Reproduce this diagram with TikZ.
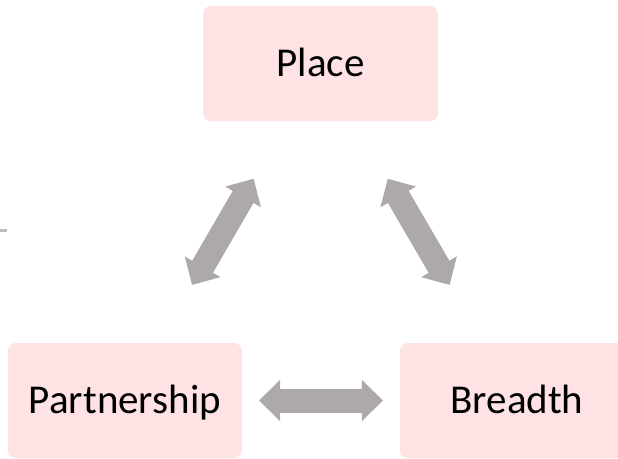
\documentclass[tikz,border=0pt]{standalone}
\usepackage{fontspec}
\setmainfont{Carlito}
\usetikzlibrary{arrows.meta,calc}
\definecolor{boxpink}{RGB}{255,227,228}
\definecolor{arrowgray}{RGB}{173,169,168}
\definecolor{dashgray}{RGB}{190,190,190}
\tikzset{
  box/.style={fill=boxpink, rounded corners=8pt, minimum width=235pt, minimum height=115pt,
    inner sep=0pt, text height=26.4pt, text depth=0pt, font=\fontsize{41}{49}\selectfont},
  bigarrow/.style={draw=arrowgray, line width=24pt,
    {Triangle[length=21pt,width=40pt]}-{Triangle[length=21pt,width=40pt]}}
}
\begin{document}
\begin{tikzpicture}[x=1pt,y=-1pt]
  \useasboundingbox (0,0) rectangle (618,458);
  \node[box] (place) at (320.5,63.5) {Place};
  \node[box, minimum width=234pt] (partner) at (125,400.5) {Partnership};
  \node[box, minimum width=234pt] (breadth) at (517,400.5) {Breadth};
  \draw[bigarrow] ($(place)!0.342!(partner)$) -- ($(place)!0.657!(partner)$);
  \draw[bigarrow] ($(place)!0.342!(breadth)$) -- ($(place)!0.657!(breadth)$);
  \draw[bigarrow] ($(partner)!0.342!(breadth)$) -- ($(partner)!0.658!(breadth)$);
  \draw[dashgray, line width=3pt] (0,230.5) -- (7,230.5);
\end{tikzpicture}
\end{document}
